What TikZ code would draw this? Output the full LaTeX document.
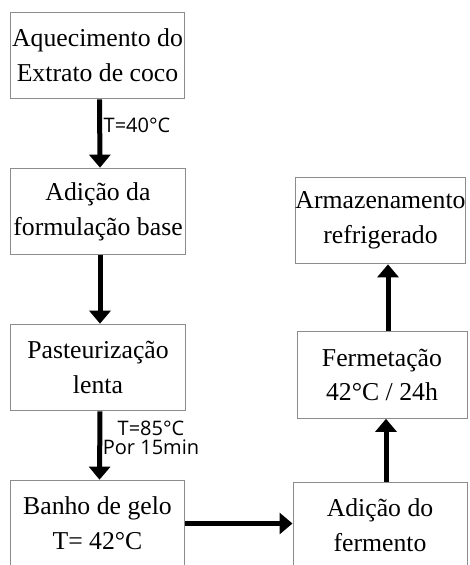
\documentclass[tikz,border=0pt]{standalone}
\usepackage{fontspec}
\setmainfont{Liberation Serif}
\newfontfamily\labelfont{Open Sans}
\usepackage{xcolor}
\definecolor{boxdraw}{rgb}{0.55,0.55,0.55}
\definecolor{flowdraw}{rgb}{0.0,0.0,0.0}
\usetikzlibrary{arrows.meta}

\begin{document}
\begin{tikzpicture}[
  x=0.75pt, y=-0.75pt,
  every node/.style={align=center, inner sep=0pt},
  stepbox/.style ={rectangle, draw=boxdraw, line width=0.75pt, fill=white, minimum width=131pt, minimum height=65pt, font=\fontsize{19.3}{26}\selectfont},
  flowlabel/.style={font=\labelfont\fontsize{15}{14}\selectfont},
  flow/.style    ={-{Triangle[width=15.75pt,length=9.75pt]}, line width=3.75pt, draw=flowdraw}
]
\useasboundingbox (0,0) rectangle (470,565);

% left column
\node[stepbox] (aquec) at (97.5, 55.5)  {Aquecimento do\\Extrato de coco};
\node[stepbox] (adic)  at (98,  211.5)  {Adição da\\formulação base};
\node[stepbox] (paste) at (98,  367.5)  {Pasteurização\\lenta};
\node[stepbox] (banho) at (97.5, 523.5) {Banho de gelo\\T= 42°C};

% right column
\node[stepbox, minimum width=130.5pt] (ferm)  at (380, 525.5) {Adição do\\fermento};
\node[stepbox, minimum width=127.5pt] (fermt) at (382, 375)   {Fermetação\\42°C / 24h};
\node[stepbox, minimum width=126.75pt] (armaz) at (380.5, 220.5) {Armazenamento\\refrigerado};

\node[flowlabel] (t40) at (137, 125) {T=40°C};
\node[flowlabel] (t85) at (151, 438)   {T=85°C\\Por 15min};

\draw[flow] ([xshift=1.5pt]aquec.south) -- ([xshift=1.5pt]adic.north);
\draw[flow] ([xshift=1.5pt]adic.south)  -- ([xshift=1.5pt]paste.north);
\draw[flow] ([xshift=1.5pt]paste.south) -- ([xshift=1.5pt]banho.north);

\draw[flow] (banho.east) -- (banho.east -| ferm.west);

% arrows sit a little right of the box centres
\draw[flow] ([xshift=4.5pt]ferm.north)  -- ([xshift=4.5pt]ferm.north |- fermt.south);
\draw[flow] ([xshift=4.5pt]fermt.north) -- ([xshift=4.5pt]fermt.north |- armaz.south);

\end{tikzpicture}
\end{document}
